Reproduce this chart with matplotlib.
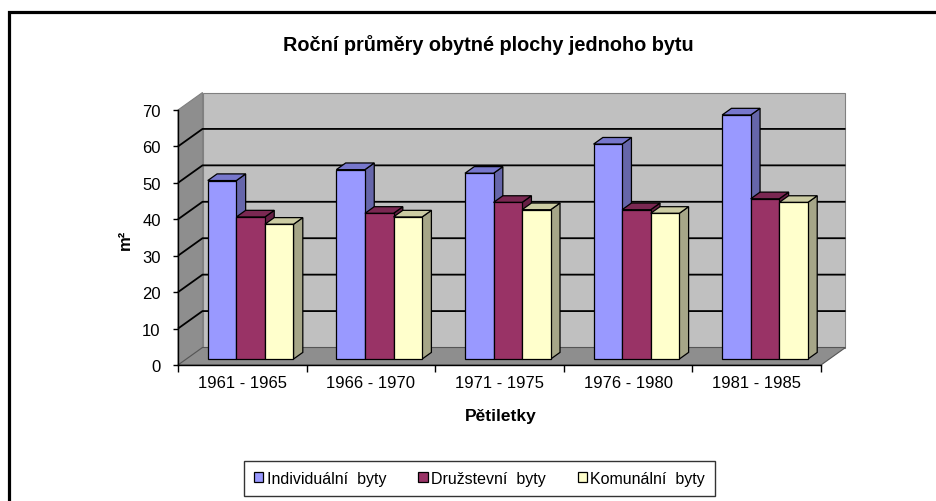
import matplotlib
matplotlib.use('Agg')
import matplotlib.pyplot as plt
from matplotlib.patches import Polygon, Rectangle, Patch

plt.rcParams['font.family'] = ['Liberation Sans', 'DejaVu Sans']

# ---------------- data ----------------
title = 'Roční průměry obytné plochy jednoho bytu'
categories = ['1961 - 1965', '1966 - 1970', '1971 - 1975', '1976 - 1980', '1981 - 1985']
series_names = ['Individuální  byty', 'Družstevní  byty', 'Komunální  byty']
individualni = [49, 52, 51, 59, 67]
druzstevni = [39, 40, 43, 41, 44]
komunalni = [37, 39, 41, 40, 43]
y_ticks = [0, 10, 20, 30, 40, 50, 60, 70]
x_label = 'Pětiletky'
y_label = 'm²'

series_values = [individualni, druzstevni, komunalni]
# (front, side, top) colours for each series
series_colors = [
    ('#9999FF', '#6666AA', '#7777CC'),
    ('#993366', '#661F44', '#7A2852'),
    ('#FFFFCC', '#A6A688', '#CCCCA3'),
]

W, H = 936, 502
fig = plt.figure(figsize=(W / 100, H / 100), dpi=100)
fig.patch.set_facecolor('white')

# outer frame (left + top visible, rest runs off the image)
fig.add_artist(Rectangle((9 / W, -0.2), 2.0, (H - 13) / H + 0.2,
                         transform=fig.transFigure, fill=False,
                         lw=2.3, edgecolor='black'))

ax_l, ax_r, ax_b, ax_t = 178, 821, 366, 111
ax = fig.add_axes([ax_l / W, (H - ax_b) / H, (ax_r - ax_l) / W, (ax_b - ax_t) / H])
ncat = len(categories)
ymax = y_ticks[-1]
ax.set_xlim(0, ncat)
ax.set_ylim(0, ymax)
ax.set_facecolor('none')

# depth offsets (data units)
px_per_cat = (ax_r - ax_l) / ncat
px_per_val = (ax_b - ax_t) / ymax
DX = 24.5 / px_per_cat
DY = 17.5 / px_per_val

wall_c = '#C0C0C0'
side_c = '#8E8E8E'
edge_c = '#808080'

# back wall
ax.add_patch(Polygon([(DX, DY), (ncat + DX, DY), (ncat + DX, ymax + DY), (DX, ymax + DY)],
                     closed=True, facecolor=wall_c, edgecolor=edge_c, lw=0.8,
                     clip_on=False, zorder=1))
# left wall
ax.add_patch(Polygon([(0, 0), (DX, DY), (DX, ymax + DY), (0, ymax)],
                     closed=True, facecolor=side_c, edgecolor=edge_c, lw=0.8,
                     clip_on=False, zorder=1))
# floor
ax.add_patch(Polygon([(0, 0), (ncat, 0), (ncat + DX, DY), (DX, DY)],
                     closed=True, facecolor=side_c, edgecolor='#555555', lw=0.8,
                     clip_on=False, zorder=1))

# gridlines
for v in y_ticks[1:-1]:
    ax.plot([0, DX, ncat + DX], [v, v + DY, v + DY], color='black', lw=1.3,
            clip_on=False, zorder=2, solid_capstyle='butt')

# bars
nser = len(series_values)
w = 1 / (nser + 1.5)
f1, f2 = 0.34, 0.72
ddx, ddy = (f2 - f1) * DX, (f2 - f1) * DY
z = 3
for i in range(ncat):
    for j in range(nser):
        h = series_values[j][i]
        fc, sc, tc = series_colors[j]
        x0 = i + 0.75 * w + j * w + f1 * DX
        y0 = f1 * DY
        front = [(x0, y0), (x0 + w, y0), (x0 + w, y0 + h), (x0, y0 + h)]
        side = [(x0 + w, y0), (x0 + w + ddx, y0 + ddy), (x0 + w + ddx, y0 + h + ddy), (x0 + w, y0 + h)]
        top = [(x0, y0 + h), (x0 + w, y0 + h), (x0 + w + ddx, y0 + h + ddy), (x0 + ddx, y0 + h + ddy)]
        for poly, c in ((side, sc), (top, tc), (front, fc)):
            ax.add_patch(Polygon(poly, closed=True, facecolor=c, edgecolor='black',
                                 lw=0.9, joinstyle='miter', clip_on=False, zorder=z))
        z += 1

# axes / ticks
for s in ('top', 'right'):
    ax.spines[s].set_visible(False)
for s in ('left', 'bottom'):
    ax.spines[s].set_color('black')
    ax.spines[s].set_linewidth(1.0)
    ax.spines[s].set_zorder(50)
ax.set_yticks(y_ticks)
ax.set_yticklabels([str(v) for v in y_ticks])
ax.tick_params(axis='y', direction='out', length=3.5, width=1.0, pad=9, labelsize=12,
               colors='black')
ax.set_xticks(range(ncat + 1))
ax.set_xticklabels([''] * (ncat + 1))
ax.set_xticks([i + 0.5 for i in range(ncat)], minor=True)
ax.set_xticklabels(categories, minor=True)
ax.tick_params(axis='x', which='major', direction='out', length=5, width=1.0)
ax.tick_params(axis='x', which='minor', length=0, pad=7, labelsize=12)

# texts
fig.text(488 / W, 1 - 45 / H, title, ha='center', va='center',
         fontsize=14.3, fontweight='bold')
fig.text(501 / W, 1 - 417 / H, x_label, ha='center', va='center',
         fontsize=12.5, fontweight='bold')
fig.text(125 / W, 1 - 240 / H, y_label, ha='center', va='center',
         fontsize=12, fontweight='bold', rotation=90)

# legend
handles = [Patch(facecolor=c[0], edgecolor='black', lw=0.9) for c in series_colors]
leg = fig.legend(handles, series_names, loc='center',
                 bbox_to_anchor=(479.5 / W, 1 - 479.5 / H), ncol=3,
                 frameon=True, fancybox=False, edgecolor='black', fontsize=11.5,
                 handlelength=0.6, handleheight=0.6, handletextpad=0.2,
                 columnspacing=2.0, borderpad=0.6, borderaxespad=0)
leg.get_frame().set_linewidth(1.0)

fig.savefig('out.png', dpi=100)
